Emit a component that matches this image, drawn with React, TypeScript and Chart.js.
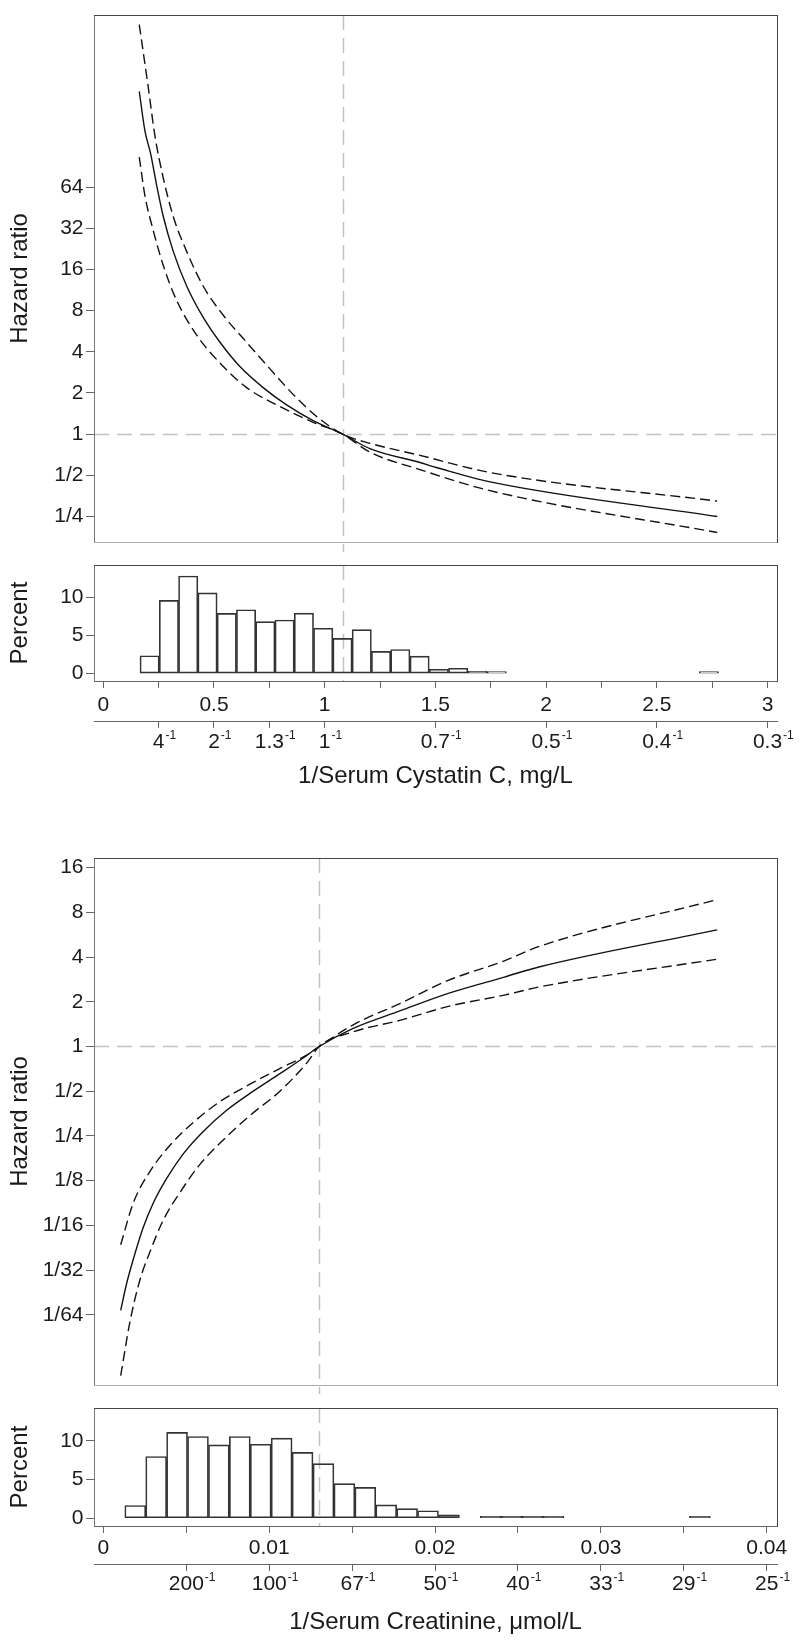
import React, { useEffect, useRef } from "react";
import { Chart, registerables } from "chart.js";

Chart.register(...registerables);

const FONT_FAMILY = '"Liberation Sans", Arial, Helvetica, sans-serif';
Chart.defaults.font.family = FONT_FAMILY;
Chart.defaults.color = "#1a1a1a";

// ---------------- Panel 1: Cystatin C ----------------
const cysHrX = [0.1625, 0.188, 0.214, 0.241, 0.271, 0.316, 0.377, 0.452, 0.527, 0.617, 0.722, 0.828, 0.948, 1.081, 1.204, 1.43, 1.512, 1.742, 2.773];
const cysHr = [320, 165, 112, 66, 39, 21.7, 12.06, 7.1, 4.7, 3.12, 2.19, 1.636, 1.255, 1.0, 0.784, 0.62, 0.566, 0.45, 0.25];
const cysUpperX = [0.1625, 0.203, 0.2334, 0.271, 0.316, 0.3765, 0.4515, 0.542, 0.647, 0.753, 0.873, 0.978, 1.081, 1.204, 1.43, 1.742, 2.773];
const cysUpper = [988, 344, 151, 74.5, 39, 21.7, 12.06, 7.4, 4.7, 3.0, 1.84, 1.29, 1.0, 0.857, 0.7, 0.526, 0.324];
const cysLowerX = [0.1625, 0.188, 0.2257, 0.271, 0.331, 0.4217, 0.527, 0.647, 0.783, 0.948, 1.081, 1.204, 1.43, 1.742, 2.773];
const cysLower = [106, 55.5, 30.8, 17.1, 9.53, 5.3, 3.31, 2.19, 1.636, 1.22, 1.0, 0.739, 0.551, 0.388, 0.191];
const cysRefX = 1.081;

const cysHistX = [0.2093, 0.2964, 0.3835, 0.4706, 0.5577, 0.6448, 0.7319, 0.819, 0.9061, 0.9932, 1.0803, 1.1674, 1.2545, 1.3416, 1.4287, 1.5158, 1.6029, 1.69, 1.7771, 2.7352];
const cysHistPct = [2.34, 9.63, 12.83, 10.61, 7.91, 8.4, 6.84, 7.05, 7.95, 5.96, 4.63, 5.78, 2.91, 3.16, 2.3, 0.57, 0.7, 0.29, 0.08, 0.1];

const cysHazardTicks = [0.25, 0.5, 1, 2, 4, 8, 16, 32, 64];
const cysAxisTicks = [0, 0.25, 0.5, 0.75, 1, 1.25, 1.5, 1.75, 2, 2.25, 2.5, 2.75, 3];
const cysAxisLabels = ["0", "", "0.5", "", "1", "", "1.5", "", "2", "", "2.5", "", "3"];
const cysInvTicks = [0.25, 0.5, 0.75, 1, 1.5, 2, 2.5, 3];
const cysInvLabels = ["4", "2", "1.3", "1", "0.7", "0.5", "0.4", "0.3"];
const cysTitle = "1/Serum Cystatin C, mg/L";

// ---------------- Panel 2: Creatinine ----------------
const creHrX = [0.001043, 0.001404, 0.001905, 0.002405, 0.003008, 0.003816, 0.004816, 0.006022, 0.007432, 0.009036, 0.010645, 0.01205, 0.013014, 0.015063, 0.017878, 0.020796, 0.024177, 0.026317, 0.037016];
const creHr = [0.01672, 0.0255, 0.0404, 0.0607, 0.0885, 0.1294, 0.1894, 0.268, 0.372, 0.5, 0.656, 0.836, 1.0, 1.325, 1.735, 2.277, 2.932, 3.44, 6.09];
const creUpperX = [0.001043, 0.001802, 0.002809, 0.004015, 0.005419, 0.007028, 0.008837, 0.010645, 0.012254, 0.013014, 0.015063, 0.017878, 0.020796, 0.024177, 0.026317, 0.037016];
const creUpper = [0.0463, 0.0885, 0.1443, 0.2162, 0.3078, 0.4255, 0.557, 0.711, 0.874, 1.0, 1.4, 1.944, 2.784, 3.77, 4.73, 9.75];
const creLowerX = [0.001043, 0.001603, 0.002206, 0.002809, 0.003611, 0.004617, 0.005823, 0.007227, 0.008837, 0.010645, 0.012254, 0.013014, 0.015063, 0.017878, 0.020796, 0.024177, 0.026317, 0.037016];
const creLower = [0.00608, 0.01407, 0.0269, 0.0415, 0.0678, 0.104, 0.161, 0.235, 0.343, 0.5, 0.772, 1.0, 1.255, 1.5, 1.861, 2.218, 2.52, 3.87];
const creRefX = 0.013;

const creHistX = [0.001921, 0.003182, 0.004443, 0.005704, 0.006965, 0.008226, 0.009487, 0.010748, 0.012009, 0.01327, 0.014531, 0.015792, 0.017053, 0.018314, 0.019575, 0.020836, 0.023358, 0.024619, 0.02588, 0.027141, 0.035968];
const creHistPct = [1.65, 7.98, 11.09, 10.56, 9.48, 10.56, 9.56, 10.36, 8.51, 7.06, 4.48, 3.99, 1.73, 1.25, 0.97, 0.44, 0.16, 0.08, 0.16, 0.08, 0.08];

const creHazardTicks = [1 / 64, 1 / 32, 1 / 16, 1 / 8, 1 / 4, 1 / 2, 1, 2, 4, 8, 16];
const creAxisTicks = [0, 0.005, 0.01, 0.015, 0.02, 0.025, 0.03, 0.035, 0.04];
const creAxisLabels = ["0", "", "0.01", "", "0.02", "", "0.03", "", "0.04"];
const creInvTicks = [0.005, 0.01, 0.015, 0.02, 0.025, 0.03, 0.035, 0.04];
const creInvLabels = ["200", "100", "67", "50", "40", "33", "29", "25"];
const creTitle = "1/Serum Creatinine, \u03bcmol/L";

const pctTicks = [0, 5, 10];

// ---------------- helpers ----------------
const TICK_FONT = 21;
const TITLE_FONT = 24;
const TEXT_COLOR = "#1a1a1a";
const AXIS_COLOR = "#666";

const hazardLabel = (v: number) => (v >= 1 ? String(Math.round(v)) : "1/" + Math.round(1 / v));
const toPoints = (xs: number[], ys: number[]) => xs.map((x, i) => ({ x, y: ys[i] }));

const framePlugin = {
  id: "frame",
  afterDatasetsDraw(chart: any, _args: any, opts: any) {
    const { ctx, chartArea: a } = chart;
    const L = Math.round(a.left) + 0.5;
    const R = Math.round(a.right) + 0.5;
    const T = Math.round(a.top) + 0.5;
    const B = Math.round(a.bottom) + 0.5;
    ctx.save();
    ctx.lineWidth = 1;
    ctx.setLineDash([]);
    const seg = (c: string, x1: number, y1: number, x2: number, y2: number) => {
      if (!c) return;
      ctx.strokeStyle = c;
      ctx.beginPath();
      ctx.moveTo(x1, y1);
      ctx.lineTo(x2, y2);
      ctx.stroke();
    };
    seg(opts.left, L, T, L, B);
    seg(opts.bottom, L - 0.5, B, R + 0.5, B);
    seg(opts.top, L - 0.5, T, R + 0.5, T);
    seg(opts.right, R, T - 0.5, R, B + 0.5);
    ctx.restore();
  },
};

const refPlugin = {
  id: "refLines",
  beforeDatasetsDraw(chart: any, _args: any, opts: any) {
    const { ctx, chartArea: a, scales } = chart;
    ctx.save();
    ctx.strokeStyle = "#c2c2c2";
    ctx.lineWidth = 1.5;
    ctx.setLineDash([15, 8]);
    if (opts.y != null) {
      const y = Math.round(scales.y.getPixelForValue(opts.y)) + 0.5;
      ctx.beginPath();
      ctx.moveTo(a.left, y);
      ctx.lineTo(a.right, y);
      ctx.stroke();
    }
    if (opts.x != null) {
      const x = Math.round(scales.x.getPixelForValue(opts.x)) + 0.5;
      ctx.beginPath();
      ctx.moveTo(x, a.top);
      ctx.lineTo(x, a.bottom + (opts.extend || 0));
      ctx.stroke();
    }
    ctx.restore();
  },
};

const supPlugin = {
  id: "supers",
  afterDraw(chart: any, _args: any, opts: any) {
    const sc = chart.scales.x2;
    if (!sc) return;
    const { ctx } = chart;
    const mid = sc.top + opts.tickLength + opts.padding + (TICK_FONT * 1.2) / 2;
    ctx.save();
    sc.ticks.forEach((t: any) => {
      const label = t.label as string;
      if (!label) return;
      ctx.font = `${TICK_FONT}px ${FONT_FAMILY}`;
      const w = ctx.measureText(label).width;
      const px = sc.getPixelForValue(t.value);
      ctx.font = `12px ${FONT_FAMILY}`;
      ctx.fillStyle = TEXT_COLOR;
      ctx.textAlign = "left";
      ctx.textBaseline = "middle";
      ctx.fillText("-1", px + w / 2 + 1, mid - 6.5);
    });
    ctx.restore();
  },
};

type HazardParams = {
  hrX: number[]; hr: number[]; upX: number[]; up: number[]; loX: number[]; lo: number[];
  xMin: number; xMax: number; yMin: number; yMax: number; ticks: number[]; refX: number;
  padTop: number; padBottom: number;
};

function hazardConfig(p: HazardParams): any {
  const base = { borderColor: "#111", borderWidth: 1.4, pointRadius: 0, fill: false, cubicInterpolationMode: "monotone" };
  return {
    type: "line",
    data: {
      datasets: [
        { ...base, data: toPoints(p.hrX, p.hr) },
        { ...base, data: toPoints(p.upX, p.up), borderDash: [10, 5] },
        { ...base, data: toPoints(p.loX, p.lo), borderDash: [10, 5] },
      ],
    },
    options: {
      animation: false,
      responsive: false,
      devicePixelRatio: 1,
      layout: { padding: { left: 0, right: 23, top: p.padTop, bottom: p.padBottom } },
      plugins: {
        legend: { display: false },
        tooltip: { enabled: false },
        frame: { top: "#444", right: "#444", bottom: "#aaa", left: "#777" },
        refLines: { x: p.refX, y: 1, extend: p.padBottom },
      },
      scales: {
        x: { type: "linear", display: false, min: p.xMin, max: p.xMax, bounds: "data" },
        y: {
          type: "logarithmic",
          min: p.yMin,
          max: p.yMax,
          bounds: "data",
          afterBuildTicks: (s: any) => { s.ticks = p.ticks.map((v) => ({ value: v })); },
          afterFit: (s: any) => { s.width = 94; },
          ticks: { callback: (v: any) => hazardLabel(Number(v)), font: { size: TICK_FONT }, color: TEXT_COLOR, padding: 2.5, autoSkip: false },
          grid: { drawOnChartArea: false, drawTicks: true, tickLength: 8, color: AXIS_COLOR },
          border: { display: false },
          title: { display: true, text: "Hazard ratio", font: { size: TITLE_FONT }, color: TEXT_COLOR, padding: { top: 6, bottom: 0 } },
        },
      },
    },
    plugins: [refPlugin, framePlugin],
  };
}

type HistParams = {
  histX: number[]; pct: number[]; xMin: number; xMax: number; yMin: number; yMax: number;
  axisTicks: number[]; axisLabels: string[]; invTicks: number[]; invLabels: string[];
  title: string; refX: number; xH: number; x2H: number; xPad: number; x2Pad: number; titlePad: number;
};

function histConfig(p: HistParams): any {
  return {
    type: "bar",
    data: {
      datasets: [
        {
          data: toPoints(p.histX, p.pct),
          backgroundColor: "rgba(255,255,255,0)",
          borderColor: "#333",
          borderWidth: 1,
          borderSkipped: false,
          barPercentage: 1,
          categoryPercentage: 1,
          minBarLength: 2,
        },
      ],
    },
    options: {
      animation: false,
      responsive: false,
      devicePixelRatio: 1,
      layout: { padding: { left: 0, right: 23, top: 7, bottom: 0 } },
      plugins: {
        legend: { display: false },
        tooltip: { enabled: false },
        frame: { top: "#444", right: "#444", bottom: AXIS_COLOR, left: "#777" },
        refLines: { x: p.refX },
        supers: { tickLength: 7, padding: p.x2Pad },
      },
      scales: {
        x: {
          type: "linear",
          position: "bottom",
          weight: 0,
          min: p.xMin,
          max: p.xMax,
          bounds: "data",
          offset: false,
          afterBuildTicks: (s: any) => { s.ticks = p.axisTicks.map((v) => ({ value: v })); },
          afterFit: (s: any) => { s.height = p.xH; },
          ticks: { callback: (_v: any, i: number) => p.axisLabels[i], autoSkip: false, maxRotation: 0, minRotation: 0, padding: p.xPad, font: { size: TICK_FONT }, color: TEXT_COLOR },
          grid: { offset: false, drawOnChartArea: false, drawTicks: true, tickLength: 7, color: AXIS_COLOR },
          border: { display: false },
        },
        x2: {
          type: "linear",
          position: "bottom",
          weight: 1,
          min: p.xMin,
          max: p.xMax,
          bounds: "data",
          offset: false,
          afterBuildTicks: (s: any) => { s.ticks = p.invTicks.map((v) => ({ value: v })); },
          afterFit: (s: any) => { s.height = p.x2H; },
          ticks: { callback: (_v: any, i: number) => p.invLabels[i], autoSkip: false, maxRotation: 0, minRotation: 0, padding: p.x2Pad, font: { size: TICK_FONT }, color: TEXT_COLOR },
          grid: { offset: false, drawOnChartArea: false, drawTicks: true, tickLength: 7, color: AXIS_COLOR },
          border: { display: true, color: AXIS_COLOR, width: 1 },
          title: { display: true, text: p.title, font: { size: TITLE_FONT }, color: TEXT_COLOR, padding: { top: 0, bottom: p.titlePad } },
        },
        y: {
          type: "linear",
          min: p.yMin,
          max: p.yMax,
          bounds: "data",
          afterBuildTicks: (s: any) => { s.ticks = pctTicks.map((v) => ({ value: v })); },
          afterFit: (s: any) => { s.width = 94; },
          ticks: { callback: (v: any) => String(v), font: { size: TICK_FONT }, color: TEXT_COLOR, padding: 2.5, autoSkip: false },
          grid: { drawOnChartArea: false, drawTicks: true, tickLength: 8, color: AXIS_COLOR },
          border: { display: false },
          title: { display: true, text: "Percent", font: { size: TITLE_FONT }, color: TEXT_COLOR, padding: { top: 6, bottom: 0 } },
        },
      },
    },
    plugins: [refPlugin, framePlugin, supPlugin],
  };
}

function ChartBox({ top, height, make }: { top: number; height: number; make: () => any }) {
  const ref = useRef<HTMLCanvasElement | null>(null);
  useEffect(() => {
    if (!ref.current) return;
    const chart = new Chart(ref.current, make());
    return () => chart.destroy();
  }, []);
  return (
    <canvas
      ref={ref}
      width={800}
      height={height}
      style={{ position: "absolute", left: 0, top, width: 800, height, display: "block" }}
    />
  );
}

const CYS_XMIN = -0.042;
const CYS_XMAX = 3.043;
const CRE_XMIN = -0.000567;
const CRE_XMAX = 0.04062;

export default function App() {
  return (
    <div style={{ position: "absolute", left: 0, top: 0, width: 800, height: 1643, background: "#fff", overflow: "hidden" }}>
      <ChartBox
        top={0}
        height={557}
        make={() =>
          hazardConfig({
            hrX: cysHrX, hr: cysHr, upX: cysUpperX, up: cysUpper, loX: cysLowerX, lo: cysLower,
            xMin: CYS_XMIN, xMax: CYS_XMAX, yMin: Math.pow(2, -2.617), yMax: Math.pow(2, 10.178),
            ticks: cysHazardTicks, refX: cysRefX, padTop: 8, padBottom: 10,
          })
        }
      />
      <ChartBox
        top={550}
        height={250}
        make={() =>
          histConfig({
            histX: cysHistX, pct: cysHistPct, xMin: CYS_XMIN, xMax: CYS_XMAX, yMin: -0.98, yMax: 14.27,
            axisTicks: cysAxisTicks, axisLabels: cysAxisLabels, invTicks: cysInvTicks, invLabels: cysInvLabels,
            title: cysTitle, refX: cysRefX, xH: 40, x2H: 79, xPad: 4.5, x2Pad: 2, titlePad: 9,
          })
        }
      />
      <ChartBox
        top={843}
        height={557}
        make={() =>
          hazardConfig({
            hrX: creHrX, hr: creHr, upX: creUpperX, up: creUpper, loX: creLowerX, lo: creLower,
            xMin: CRE_XMIN, xMax: CRE_XMAX, yMin: Math.pow(2, -7.567), yMax: Math.pow(2, 4.212),
            ticks: creHazardTicks, refX: creRefX, padTop: 9, padBottom: 9,
          })
        }
      />
      <ChartBox
        top={1393}
        height={250}
        make={() =>
          histConfig({
            histX: creHistX, pct: creHistPct, xMin: CRE_XMIN, xMax: CRE_XMAX, yMin: -1.0, yMax: 14.23,
            axisTicks: creAxisTicks, axisLabels: creAxisLabels, invTicks: creInvTicks, invLabels: creInvLabels,
            title: creTitle, refX: creRefX, xH: 38, x2H: 79, xPad: 2.5, x2Pad: 1, titlePad: 6.5,
          })
        }
      />
    </div>
  );
}
